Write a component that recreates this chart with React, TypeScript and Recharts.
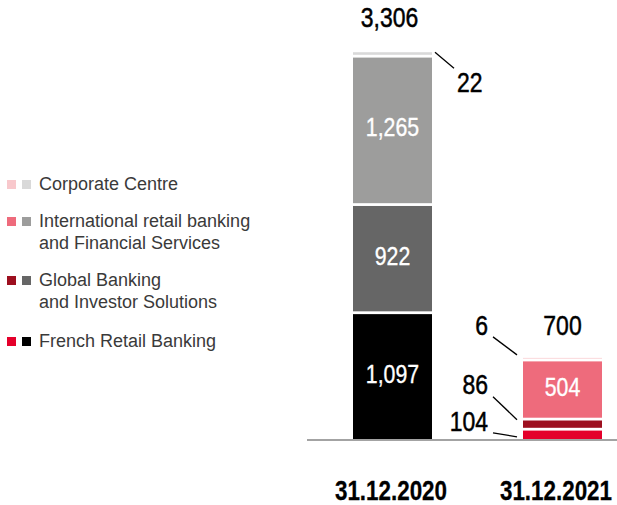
import React from 'react';
import { BarChart, Bar, XAxis, YAxis, Cell, LabelList } from 'recharts';

// Values
const categories = ['31.12.2020', '31.12.2021'];
const frenchRetail = [1097, 104];
const globalBanking = [922, 86];
const internationalRetail = [1265, 504];
const corporateCentre = [22, 6];
const totals = [3306, 700];

const seriesNames = [
  'Corporate Centre',
  'International retail banking\nand Financial Services',
  'Global Banking\nand Investor Solutions',
  'French Retail Banking',
];

// colours: first year in greys, second year in reds
const colors = {
  french: ['#000000', '#e4002b'],
  global: ['#666666', '#9d0f1f'],
  international: ['#9d9d9c', '#ee6b7c'],
  corporate: ['#d9d9d9', '#f8c8cc'],
};

const data = categories.map((date, i) => ({
  date,
  french: frenchRetail[i],
  global: globalBanking[i],
  international: internationalRetail[i],
  corporate: corporateCentre[i],
  total: totals[i],
}));

const numFont = '"Liberation Sans", Arial, sans-serif';
const fmt = (v: number) => v.toLocaleString('en-US');

const GAP = 2.8;

// condensed look: Liberation Sans squeezed horizontally
const NText = ({ x, y, anchor = 'middle', size = 28, fill = '#000', bold = false, thick = 0.5, sx = 0.82, children }: any) => (
  <text
    transform={`translate(${x},${y}) scale(${sx},1)`}
    x={0}
    y={0}
    textAnchor={anchor}
    fontSize={size}
    fontWeight={bold ? 'bold' : 'normal'}
    fontFamily={numFont}
    fill={fill}
    stroke={thick ? fill : 'none'}
    strokeWidth={thick}
  >
    {children}
  </text>
);

// segment with a white gap on top (except the top segment)
const gapShape = (withGap: boolean) => (props: any) => {
  const { x, y, width, height, fill } = props;
  const g = withGap ? Math.min(GAP, height * 0.3) : 0;
  return <rect x={x} y={y + g} width={width} height={Math.max(height - g, 0)} fill={fill} />;
};

const InsideLabel = (props: any) => {
  const { x, y, width, height, value } = props;
  if (height < 30) return null;
  return (
    <NText x={x + width / 2} y={y + GAP / 2 + height / 2 + 6} size={26} fill="#fff" thick={0.35}>
      {fmt(value)}
    </NText>
  );
};

const SideLabel = (props: any) => {
  const { x, y, height, value, index, kind } = props;
  if (index === 0 && height >= 30) return null;
  const tx = x - 35;
  if (kind === 'global') {
    return (
      <g>
        <line x1={x - 30} y1={y - 21} x2={x - 6} y2={y + 2} stroke="#000" strokeWidth={1.3} />
        <NText x={tx} y={y - 24} anchor="end">
          {fmt(value)}
        </NText>
      </g>
    );
  }
  return (
    <g>
      <line x1={x - 30} y1={y + 5} x2={x - 6} y2={y + 9} stroke="#000" strokeWidth={1.3} />
      <NText x={tx} y={y + 3} anchor="end">
        {fmt(value)}
      </NText>
    </g>
  );
};

const TopLabel = (props: any) => {
  const { x, y, width, value, index } = props;
  const total = totals[index];
  const cx = x + width / 2;
  if (index === 0) {
    return (
      <g>
        <NText x={cx - 3} y={y - 25}>
          {fmt(total)}
        </NText>
        <line x1={x + width + 3} y1={y} x2={x + width + 22} y2={y + 16} stroke="#000" strokeWidth={1.3} />
        <NText x={x + width + 25} y={y + 40} anchor="start">
          {fmt(value)}
        </NText>
      </g>
    );
  }
  return (
    <g>
      <NText x={cx} y={y - 23}>
        {fmt(total)}
      </NText>
      <line x1={x - 30} y1={y - 21} x2={x - 6} y2={y - 3} stroke="#000" strokeWidth={1.3} />
      <NText x={x - 35} y={y - 23} anchor="end">
        {fmt(value)}
      </NText>
    </g>
  );
};

const DateTick = (props: any) => {
  const { x, y, payload, index } = props;
  // last label sits a bit left of its bar so it stays inside the frame
  const shift = index === categories.length - 1 ? -6 : -1;
  return (
    <NText x={x + shift} y={y + 52} bold thick={0.3} sx={0.8}>
      {payload.value}
    </NText>
  );
};

const legendSwatches = [
  [colors.corporate[1], colors.corporate[0]],
  [colors.international[1], colors.international[0]],
  [colors.global[1], colors.global[0]],
  [colors.french[1], colors.french[0]],
];
const legendTops = [173, 210, 269, 330];

const Legend = () => (
  <div style={{ position: 'absolute', left: 0, top: 0 }}>
    {seriesNames.map((name, i) => (
      <div key={name} style={{ position: 'absolute', left: 0, top: legendTops[i], width: 270 }}>
        <div style={{ position: 'absolute', left: 7, top: 7, width: 9, height: 9, background: legendSwatches[i][0] }} />
        <div style={{ position: 'absolute', left: 22, top: 7, width: 9, height: 9, background: legendSwatches[i][1] }} />
        <div
          style={{
            position: 'absolute',
            left: 39,
            top: 0,
            fontFamily: '"Liberation Sans", Arial, sans-serif',
            fontSize: 18,
            lineHeight: '22px',
            color: '#3a3a3a',
            whiteSpace: 'pre',
          }}
        >
          {name}
        </div>
      </div>
    ))}
  </div>
);

export default function App() {
  return (
    <div style={{ position: 'absolute', left: 0, top: 0, width: 617, height: 505, overflow: 'hidden', background: '#fff' }}>
      <BarChart
        width={647}
        height={505}
        data={data}
        margin={{ top: 6, right: 0, bottom: 35, left: 307 }}
        barCategoryGap={0}
        barSize={79}
      >
        <XAxis
          dataKey="date"
          height={30}
          tickLine={false}
          axisLine={{ stroke: '#a3a3a3', strokeWidth: 2 }}
          tick={<DateTick />}
          interval={0}
        />
        <YAxis hide type="number" domain={[0, 3700]} allowDataOverflow />
        <Bar dataKey="french" stackId="a" isAnimationActive={false} shape={gapShape(true)}>
          {data.map((_, i) => (
            <Cell key={i} fill={colors.french[i]} />
          ))}
          <LabelList dataKey="french" content={<InsideLabel />} />
          <LabelList dataKey="french" content={<SideLabel kind="french" />} />
        </Bar>
        <Bar dataKey="global" stackId="a" isAnimationActive={false} shape={gapShape(true)}>
          {data.map((_, i) => (
            <Cell key={i} fill={colors.global[i]} />
          ))}
          <LabelList dataKey="global" content={<InsideLabel />} />
          <LabelList dataKey="global" content={<SideLabel kind="global" />} />
        </Bar>
        <Bar dataKey="international" stackId="a" isAnimationActive={false} shape={gapShape(true)}>
          {data.map((_, i) => (
            <Cell key={i} fill={colors.international[i]} />
          ))}
          <LabelList dataKey="international" content={<InsideLabel />} />
        </Bar>
        <Bar dataKey="corporate" stackId="a" isAnimationActive={false} shape={gapShape(false)}>
          {data.map((_, i) => (
            <Cell key={i} fill={colors.corporate[i]} />
          ))}
          <LabelList dataKey="corporate" content={<TopLabel />} />
        </Bar>
      </BarChart>
      <Legend />
    </div>
  );
}
